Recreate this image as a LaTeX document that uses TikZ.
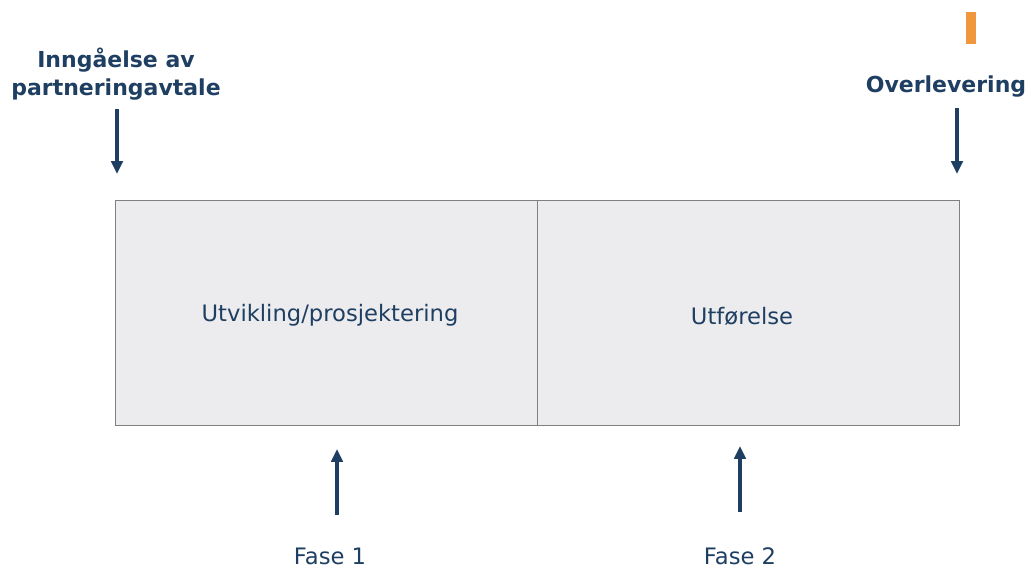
\documentclass[tikz,border=0pt]{standalone}
\usepackage{fontspec}
\setmainfont{DejaVu Sans}
\usepackage{xcolor}
\usetikzlibrary{arrows.meta,positioning}

\definecolor{navy}{HTML}{1F3F62}
\definecolor{boxgray}{HTML}{ECECEE}
\definecolor{edgegray}{HTML}{808080}
\definecolor{accent}{HTML}{F0963C}

\begin{document}
\begin{tikzpicture}[
    x=0.75pt, y=-0.75pt,
    >={Triangle[length=3.4mm,width=3mm]},
    phase/.style={draw=edgegray,fill=boxgray,line width=1pt,inner sep=0pt,
                  minimum width=422*0.75pt,minimum height=225*0.75pt,anchor=north west},
    milestone/.style={font=\fontsize{16.5}{21}\selectfont\bfseries,text=navy,
                      align=center,inner sep=0pt},
    caption/.style={font=\fontsize{17}{20}\selectfont,text=navy,inner sep=0pt},
    pointer/.style={->,navy,line width=2.8pt},
  ]
  \useasboundingbox (0,0) rectangle (1028,569);

  % --- orange tab (top right) ---
  \fill[accent] (966,12) rectangle (976,44);

  % --- phase boxes ---
  \node[phase] (dev) at (115,200) {};
  \node[phase] (exe) at (537,200) {};
  \node[caption] (devtxt) at (330,315) {Utvikling/prosjektering};
  \node[caption] (exetxt) at (742,316) {Utførelse};

  % --- milestones (top) ---
  \node[milestone] (start) at (116,74) {Inngåelse av\\partneringavtale};
  \node[milestone] (handover) at (946,87) {Overlevering};
  \coordinate (starttop) at (117,109);
  \coordinate (startdn) at (117,174);
  \coordinate (handtop) at (957,108);
  \coordinate (handdn) at (957,174);
  \draw[pointer] (starttop) -- (startdn);
  \draw[pointer] (handtop) -- (handdn);

  % --- phase labels (bottom) ---
  \node[caption] (fase1) at (330,556) {Fase 1};
  \node[caption] (fase2) at (740,556) {Fase 2};
  \coordinate (f1low) at (337,515);
  \coordinate (f1up) at (337,449);
  \coordinate (f2low) at (740,512);
  \coordinate (f2up) at (740,446);
  \draw[pointer] (f1low) -- (f1up);
  \draw[pointer] (f2low) -- (f2up);

\end{tikzpicture}
\end{document}
